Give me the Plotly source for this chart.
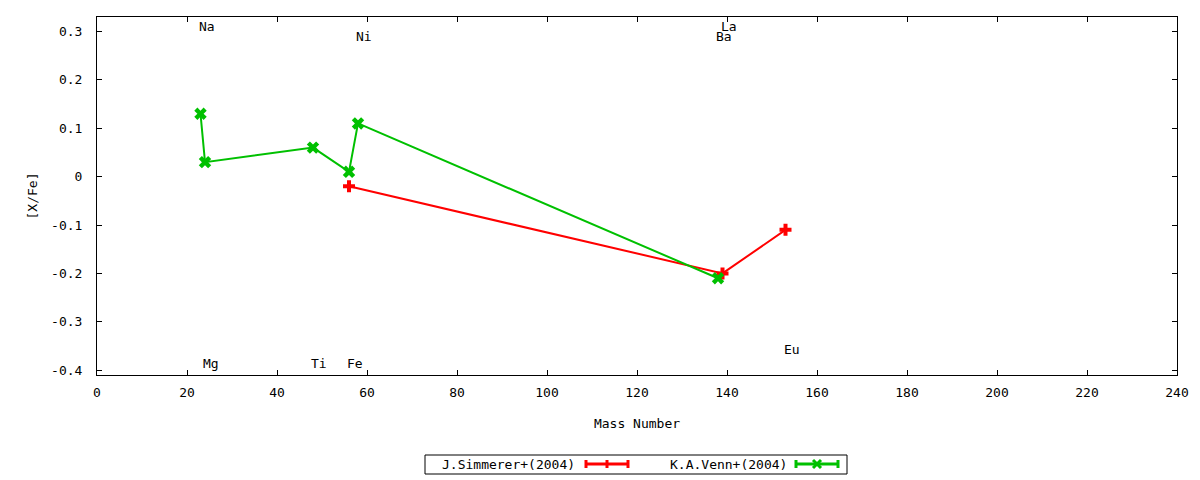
import plotly.graph_objects as go

chart_name = 'xfe-mass-number'

# J.Simmerer+(2004)
simmerer_mass = [56, 139, 153]
simmerer_xfe = [-0.02, -0.20, -0.11]

# K.A.Venn+(2004)
venn_mass = [23, 24, 48, 56, 58, 138]
venn_xfe = [0.13, 0.03, 0.06, 0.01, 0.11, -0.21]

# element labels
elem_names = ['Na', 'Mg', 'Ti', 'Fe', 'Ni', 'Ba', 'La', 'Eu']
elem_mass = [23, 24, 48, 56, 58, 138, 139, 153]
elem_y = [0.31, -0.386, -0.386, -0.386, 0.29, 0.29, 0.31, -0.357]

x_ticks = list(range(0, 241, 20))
y_ticks = [-0.4, -0.3, -0.2, -0.1, 0, 0.1, 0.2, 0.3]
y_ticktext = ['-0.4', '-0.3', '-0.2', '-0.1', '0', '0.1', '0.2', '0.3']

RED = '#ff0000'
GREEN = '#00c000'
FONT = 'DejaVu Sans Mono'

fig = go.Figure()
fig.add_trace(go.Scatter(
    x=simmerer_mass, y=simmerer_xfe, mode='lines+markers',
    name='J.Simmerer+(2004)',
    line=dict(color=RED, width=2),
    marker=dict(symbol='cross', size=10, color=RED),
))
fig.add_trace(go.Scatter(
    x=venn_mass, y=venn_xfe, mode='lines+markers',
    name='K.A.Venn+(2004)',
    line=dict(color=GREEN, width=2),
    marker=dict(symbol='x', size=11, color=GREEN),
))

annotations = []
for name, m, y in zip(elem_names, elem_mass, elem_y):
    annotations.append(dict(
        x=m, y=y, xref='x', yref='y', text=name, showarrow=False,
        xanchor='left', yanchor='middle', xshift=-4,
        font=dict(family=FONT, size=13, color='black')))

# manual gnuplot-style legend (pixel -> paper helpers)
L, R, T, B = 97, 1177, 17, 375
def px(x):
    return (x - L) / (R - L)
def py(y):
    return (B - y) / (B - T)

shapes = [dict(type='rect', xref='paper', yref='paper',
               x0=px(425), x1=px(847), y0=py(474), y1=py(455),
               line=dict(color='black', width=1))]

legend_items = [
    ('J.Simmerer+(2004)', RED, 577, 586, 628, 'cross'),
    ('K.A.Venn+(2004)', GREEN, 789, 796, 838, 'x'),
]
ly = 464
for text, col, tx, a, b, sym in legend_items:
    annotations.append(dict(
        x=px(tx), y=py(ly), xref='paper', yref='paper', text=text,
        showarrow=False, xanchor='right', yanchor='middle',
        font=dict(family=FONT, size=13, color='black')))
    seg = dict(type='line', xref='paper', yref='paper', line=dict(color=col, width=3))
    shapes.append(dict(seg, x0=px(a), x1=px(b), y0=py(ly), y1=py(ly)))
    shapes.append(dict(seg, x0=px(a), x1=px(a), y0=py(ly - 4), y1=py(ly + 4)))
    shapes.append(dict(seg, x0=px(b), x1=px(b), y0=py(ly - 4), y1=py(ly + 4)))
    mid = (a + b) / 2
    if sym == 'cross':
        shapes.append(dict(seg, x0=px(mid), x1=px(mid), y0=py(ly - 4), y1=py(ly + 4)))
    else:
        shapes.append(dict(seg, x0=px(mid - 4), x1=px(mid + 4), y0=py(ly - 4), y1=py(ly + 4)))
        shapes.append(dict(seg, x0=px(mid - 4), x1=px(mid + 4), y0=py(ly + 4), y1=py(ly - 4)))

axis_common = dict(
    showline=True, linecolor='black', linewidth=1, mirror='ticks',
    ticks='inside', ticklen=5, tickcolor='black', showgrid=False,
    zeroline=False, tickfont=dict(family=FONT, size=13, color='black'),
)

fig.update_layout(
    width=1200, height=480,
    margin=dict(l=L, r=1200 - R, t=T, b=480 - B),
    plot_bgcolor='white', paper_bgcolor='white',
    showlegend=False,
    font=dict(family=FONT, size=13, color='black'),
    xaxis=dict(axis_common, range=[0, 240], tickvals=x_ticks,
               ticklabelstandoff=5,
               title=dict(text='Mass Number', standoff=20,
                          font=dict(family=FONT, size=13))),
    yaxis=dict(axis_common, range=[-0.41, 0.33], tickvals=y_ticks,
               ticktext=y_ticktext, ticklabelstandoff=11,
               title=dict(text='[X/Fe]', standoff=10,
                          font=dict(family=FONT, size=13))),
    annotations=annotations,
    shapes=shapes,
)

fig.write_html('out.html', config={'displayModeBar': False},
               post_script="document.body.style.margin='0';document.body.style.overflow='hidden';")
